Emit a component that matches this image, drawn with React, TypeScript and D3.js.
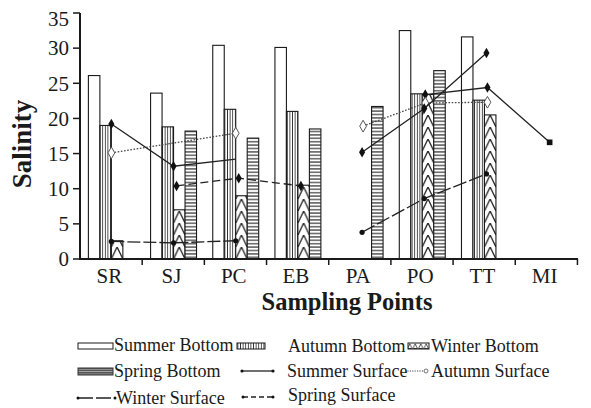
import React from "react";
import * as d3 from "d3";

const categories = ["SR", "SJ", "PC", "EB", "PA", "PO", "TT", "MI"];
const barSeries = ["Summer Bottom", "Autumn Bottom", "Winter Bottom", "Spring Bottom"];
const summerBottom = [26.1, 23.6, 30.4, 30.1, null, 32.5, 31.6, null];
const autumnBottom = [19.0, 18.8, 21.3, 21.0, null, 23.5, 22.6, null];
const winterBottom = [2.6, 7.0, 9.0, 10.5, null, 23.4, 20.5, null];
const springBottom = [null, 18.2, 17.2, 18.5, 21.7, 26.8, null, null];

const summerSurfaceLeft = [19.2, 13.2, 14.2, null, null, null, null, null];
const summerSurfaceRight = [null, null, null, null, null, 23.4, 24.4, 16.6];
const autumnSurfaceLeft = [15.1, null, 17.9, null, null, null, null, null];
const autumnSurfaceRight = [null, null, null, null, 18.9, 22.2, 22.3, null];
const winterSurfaceLeft = [2.5, 2.3, 2.6, null, null, null, null, null];
const winterSurfaceRight = [null, null, null, null, 3.8, 8.6, 12.1, null];
const springSurfaceLeft = [null, 10.4, 11.5, 10.4, null, null, null, null];
const springSurfaceRight = [null, null, null, null, 15.2, 21.4, 29.3, null];

const yTicks = [0, 5, 10, 15, 20, 25, 30, 35];

const FONT = "'Liberation Serif', 'Times New Roman', serif";
const INK = "#1a1a1a";

export default function App() {
  const W = 591, H = 408;
  const xL = 80, xR = 578, yT = 13, yB = 259;
  const y = d3.scaleLinear().domain([0, 35]).range([yB, yT]);
  const x0 = d3.scaleBand<string>().domain(categories).range([xL, xR]).paddingInner(0.261).paddingOuter(0.135);
  const x1 = d3.scaleBand<string>().domain(barSeries).range([0, x0.bandwidth()]);
  const step = x0.step();
  const barData = [summerBottom, autumnBottom, winterBottom, springBottom];
  const fills = ["#fff", "url(#vlines)", "", "url(#hlines)"];

  const lineGen = d3.line<[number, number]>().x(d => d[0]).y(d => d[1]);

  const lines = [
    { data: summerSurfaceLeft, off: 0, dash: "", stroke: "#222", marker: "diamond", hideLast: true },
    { data: summerSurfaceRight, off: 3, dash: "", stroke: "#222", marker: "diamond", lastSquare: true },
    { data: autumnSurfaceLeft, off: 0, dash: "1.6,1.6", stroke: "#444", marker: "open" },
    { data: autumnSurfaceRight, off: 3, dash: "1.6,1.6", stroke: "#444", marker: "open" },
    { data: winterSurfaceLeft, off: 0, dash: "13,3", stroke: "#222", marker: "circle" },
    { data: winterSurfaceRight, off: 2, dash: "14,3", stroke: "#222", marker: "circle" },
    { data: springSurfaceLeft, off: 3, dash: "8,4", stroke: "#222", marker: "diamond" },
    { data: springSurfaceRight, off: 2, dash: "", stroke: "#222", marker: "diamond" },
  ];

  const diamond = d3.symbol().type(d3.symbolDiamond).size(32)();
  const square = d3.symbol().type(d3.symbolSquare).size(32)();
  const openDiamond = d3.symbol().type(d3.symbolDiamond).size(40)();

  const chevH = 12;

  return (
    <svg width={W} height={H} style={{ position: "absolute", left: 0, top: 0, background: "#fff" }}
      fontFamily={FONT}>
      <defs>
        <pattern id="vlines" patternUnits="userSpaceOnUse" width={2.6} height={10}>
          <rect width={2.6} height={10} fill="#fff" />
          <line x1={1.3} y1={0} x2={1.3} y2={10} stroke="#333" strokeWidth={0.9} />
        </pattern>
        <pattern id="hlines" patternUnits="userSpaceOnUse" width={10} height={3.4} y={yB}>
          <rect width={10} height={3.4} fill="#fff" />
          <line x1={0} y1={1.7} x2={10} y2={1.7} stroke="#222" strokeWidth={1.1} />
        </pattern>
        <pattern id="hlinesLeg" patternUnits="userSpaceOnUse" width={10} height={2.4} y={368}>
          <rect width={10} height={2.4} fill="#555" />
          <line x1={0} y1={1.2} x2={10} y2={1.2} stroke="#ddd" strokeWidth={0.6} />
        </pattern>
        <pattern id="triLeg" patternUnits="userSpaceOnUse" width={5.5} height={6} x={407} y={343}>
          <rect width={5.5} height={6} fill="#fff" />
          <path d="M0.5,5.5 L2.75,0.8 L5,5.5 Z" fill="none" stroke="#222" strokeWidth={0.8} />
        </pattern>
        {categories.map((c, i) => {
          const bx = (x0(c) as number) + (x1("Winter Bottom") as number);
          const bw = x1.bandwidth();
          return (
            <pattern key={c} id={`chev${i}`} patternUnits="userSpaceOnUse" x={bx} y={yB} width={bw} height={chevH}>
              <rect width={bw} height={chevH} fill="#fff" />
              <path d={`M0,${chevH} L${bw / 2},0 L${bw},${chevH}`} fill="none" stroke="#222" strokeWidth={1.3} />
            </pattern>
          );
        })}
      </defs>

      {/* bars */}
      {barData.map((arr, s) =>
        arr.map((v, i) =>
          v == null ? null : (
            <rect key={`${s}-${i}`}
              x={(x0(categories[i]) as number) + (x1(barSeries[s]) as number)}
              y={y(v)}
              width={x1.bandwidth()}
              height={yB - y(v)}
              fill={s === 2 ? `url(#chev${i})` : fills[s]}
              stroke={INK} strokeWidth={1.1} />
          )
        )
      )}

      {/* lines */}
      {lines.map((ln, li) => {
        const pts: [number, number][] = [];
        ln.data.forEach((v, i) => {
          if (v != null) pts.push([(x0(categories[i]) as number) + x0.bandwidth() / 2 + ln.off, y(v)]);
        });
        return (
          <g key={li}>
            <path d={lineGen(pts) || ""} fill="none" stroke={ln.stroke} strokeWidth={1.3}
              strokeDasharray={ln.dash || undefined} />
            {pts.map((p, k) => {
              const last = k === pts.length - 1;
              if (ln.hideLast && last) return null;
              if (ln.marker === "open")
                return <path key={k} d={openDiamond} transform={`translate(${p[0]},${p[1]})`} fill="#fff" stroke="#555" strokeWidth={1} />;
              if (ln.marker === "circle")
                return <circle key={k} cx={p[0]} cy={p[1]} r={2.6} fill="#111" />;
              if (ln.lastSquare && last)
                return <path key={k} d={square} transform={`translate(${p[0]},${p[1]})`} fill="#111" />;
              return <path key={k} d={diamond} transform={`translate(${p[0]},${p[1]})`} fill="#111" />;
            })}
          </g>
        );
      })}

      {/* y axis */}
      <line x1={xL} y1={yT} x2={xL} y2={yB + 1} stroke={INK} strokeWidth={2} />
      {yTicks.map(t => (
        <g key={t}>
          <line x1={xL - 7} x2={xL} y1={y(t)} y2={y(t)} stroke={INK} strokeWidth={1.5} />
          <text x={69} y={y(t) + (t === 35 ? 6 : 0)} dy="0.35em" textAnchor="end" fontSize={21} fill={INK}>{t}</text>
        </g>
      ))}
      {/* x axis */}
      <line x1={xL - 1} y1={yB} x2={xR} y2={yB} stroke={INK} strokeWidth={2} />
      {categories.map((c, i) => (
        <line key={c} x1={xL + step * (i + 1)} x2={xL + step * (i + 1)} y1={yB} y2={yB + 6} stroke={INK} strokeWidth={1.5} />
      ))}
      {categories.map(c => (
        <text key={c} x={(x0(c) as number) + x0.bandwidth() / 2 - 2} y={283} textAnchor="middle" fontSize={21} fill={INK}>{c}</text>
      ))}

      <text x={347} y={310} textAnchor="middle" fontSize={24.5} fontWeight="bold" fill={INK}>Sampling Points</text>
      <text transform="translate(31,144) rotate(-90)" textAnchor="middle" fontSize={27} fontWeight="bold" fill={INK}>Salinity</text>

      {/* legend */}
      <g fontSize={18} fill={INK}>
        <rect x={78} y={343} width={35} height={6} fill="#fff" stroke={INK} strokeWidth={1} />
        <text x={114} y={351}>Summer Bottom</text>
        <rect x={237} y={343} width={28} height={6} fill="url(#vlines)" stroke={INK} strokeWidth={1} />
        <text x={288} y={351.5}>Autumn Bottom</text>
        <rect x={408} y={343} width={21} height={6} fill="url(#triLeg)" stroke={INK} strokeWidth={1} />
        <text x={431} y={351.5}>Winter Bottom</text>

        <rect x={78} y={368} width={35} height={7} fill="url(#hlinesLeg)" stroke="#333" strokeWidth={1} />
        <text x={114} y={377}>Spring Bottom</text>
        <line x1={242} x2={273} y1={371} y2={371} stroke="#222" strokeWidth={1.3} />
        <circle cx={242} cy={371} r={1.6} fill="#111" />
        <circle cx={273} cy={371} r={1.6} fill="#111" />
        <text x={287} y={377}>Summer Surface</text>
        <line x1={405} x2={425} y1={371} y2={371} stroke="#444" strokeWidth={1} strokeDasharray="1.2,1.2" />
        <circle cx={426} cy={371} r={2} fill="#fff" stroke="#555" strokeWidth={0.8} />
        <text x={431} y={377}>Autumn Surface</text>

        <line x1={78} x2={115} y1={398} y2={398} stroke="#222" strokeWidth={1.3} strokeDasharray="15,3" />
        <circle cx={78} cy={398} r={1.5} fill="#111" />
        <circle cx={115} cy={398} r={1.5} fill="#111" />
        <text x={116} y={404}>Winter Surface</text>
        <line x1={243} x2={273} y1={397} y2={397} stroke="#222" strokeWidth={1.3} strokeDasharray="5,3" />
        <circle cx={243} cy={397} r={1.5} fill="#111" />
        <circle cx={273} cy={397} r={1.5} fill="#111" />
        <text x={288} y={401}>Spring Surface</text>
      </g>
    </svg>
  );
}
